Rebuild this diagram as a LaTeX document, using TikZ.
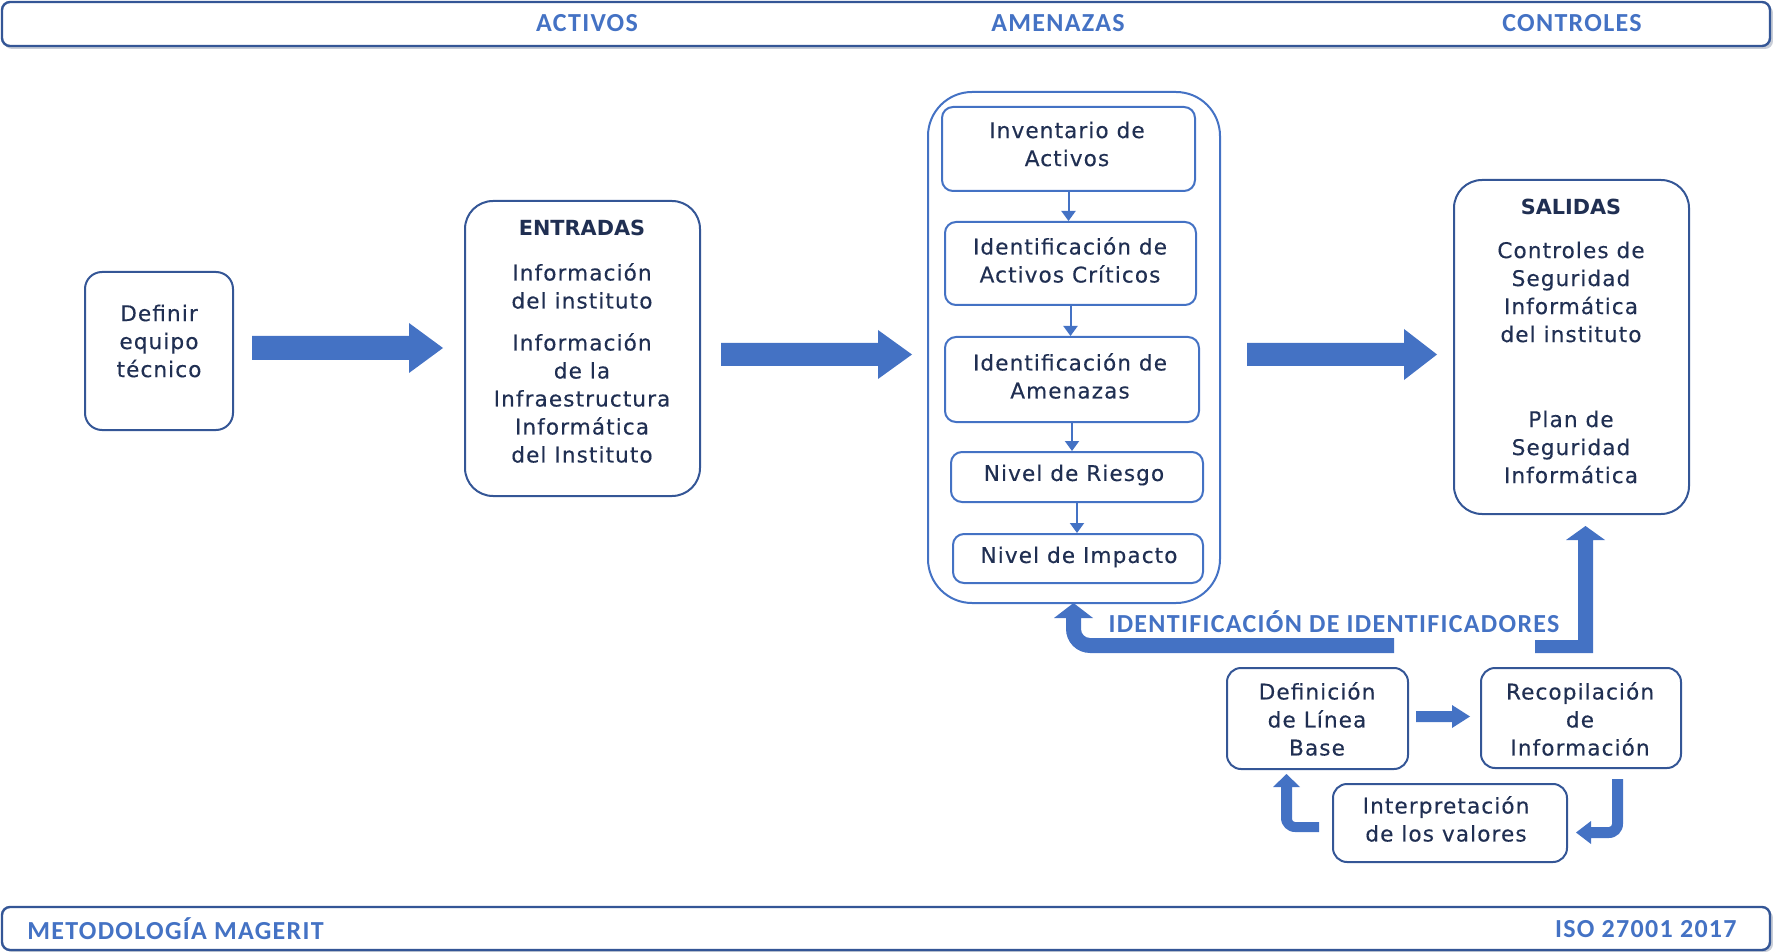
\documentclass[tikz,border=0pt]{standalone}
\usepackage{fontspec}
\usetikzlibrary{arrows.meta,fit}
\newfontfamily\boxfont[LetterSpace=5,FakeBold=0.3]{DejaVu Sans}
\newfontfamily\boxboldfont{DejaVu Sans}
\newfontfamily\barfont[LetterSpace=5]{Carlito}
\definecolor{arrowblue}{RGB}{68,114,196}
\definecolor{boxdark}{RGB}{52,86,150}
\definecolor{boxlight}{RGB}{68,114,196}
\definecolor{textnavy}{RGB}{32,47,82}
\definecolor{barshadow}{RGB}{200,205,215}
\begin{document}
\begin{tikzpicture}[x=0.5pt,y=-0.5pt,
  bodytext/.style={font=\boxfont\fontsize{10.8}{14}\selectfont, text=textnavy, align=center, inner sep=0},
  titletext/.style={font=\boxboldfont\bfseries\fontsize{10.4}{14}\selectfont, text=textnavy, inner sep=0},
  bartext/.style={font=\barfont\bfseries\fontsize{13}{14}\selectfont, text=arrowblue, inner sep=0},
  outerbox/.style={draw=boxdark, line width=1pt, inner sep=0},
  innerbox/.style={draw=boxlight, line width=1pt, inner sep=0, rounded corners=5.5pt},
  smallbox/.style={outerbox, rounded corners=7pt},
  barbox/.style={draw=boxdark, line width=1.2pt, fill=white, rounded corners=4pt, inner sep=0},
  thinarrow/.style={draw=boxlight, line width=1pt, -{Triangle[width=7pt,length=5pt]}}
]
\useasboundingbox (0,0) rectangle (1773,952);

% header and footer bars
\fill[barshadow, rounded corners=4pt] (4,5) rectangle (1773,49);
\node[barbox, fit={(2,2)(1770,46)}] (topbar) {};
\fill[barshadow, rounded corners=4pt] (4,910) rectangle (1773,952);
\node[barbox, fit={(2,907)(1770,950)}] (bottombar) {};
\node[bartext] (hactivos) at (587,23) {ACTIVOS};
\node[bartext] (hamenazas) at (1058,23) {AMENAZAS};
\node[bartext] (hcontroles) at (1572,23) {CONTROLES};
\node[bartext, anchor=west] (fmagerit) at (27,929) {METODOLOGÍA MAGERIT};
\node[bartext, anchor=east] (fiso) at (1737,929) {ISO 27001 2017};

% first stage
\node[outerbox, rounded corners=8.5pt, fit={(85,272)(233,430)}] (definir) {};
\node[bodytext] (tdefinir) at (159,341) {Definir\\equipo\\técnico};

\node[outerbox, rounded corners=14pt, fit={(465,201)(700,496)}] (entradas) {};
\node[titletext] (tentradas) at (582,228) {ENTRADAS};
\node[bodytext] (tent1) at (582,286) {Información\\del instituto};
\node[bodytext] (tent2) at (582,398) {Información\\de la\\Infraestructura\\Informática\\del Instituto};

% analysis block
\node[draw=boxlight, line width=1pt, rounded corners=22pt, inner sep=0, fit={(928,92)(1220,603)}] (analisis) {};
\node[innerbox, fit={(942,107)(1195,191)}] (inv) {};
\node[innerbox, fit={(945,222)(1196,305)}] (iac) {};
\node[innerbox, fit={(945,337)(1199,422)}] (iam) {};
\node[innerbox, fit={(951,452)(1203,502)}] (riesgo) {};
\node[innerbox, fit={(953,534)(1203,583)}] (impacto) {};
\node[bodytext] (tinv) at (1067,144) {Inventario de\\Activos};
\node[bodytext] (tiac) at (1070,260) {Identificación de\\Activos Críticos};
\node[bodytext] (tiam) at (1070,376) {Identificación de\\Amenazas};
\node[bodytext] (triesgo) at (1074,475) {Nivel de Riesgo};
\node[bodytext] (timpacto) at (1079,557) {Nivel de Impacto};
\draw[thinarrow] (inv.south) -- (inv.south |- iac.north);
\draw[thinarrow] (iac.south) -- (iac.south |- iam.north);
\draw[thinarrow] (iam.south) -- (iam.south |- riesgo.north);
\draw[thinarrow] (riesgo.south) -- (riesgo.south |- impacto.north);

% outputs
\node[outerbox, rounded corners=14pt, fit={(1454,180)(1689,514)}] (salidas) {};
\node[titletext] (tsalidas) at (1571,207) {SALIDAS};
\node[bodytext] (tsal1) at (1571,292) {Controles de\\Seguridad\\Informática\\del instituto};
\node[bodytext] (tsal2) at (1571,447) {Plan de\\Seguridad\\Informática};

% main flow arrows
\fill[arrowblue] (252,336) -- (409,336) -- (409,323) -- (443,348) -- (409,373) -- (409,360) -- (252,360) -- cycle;
\fill[arrowblue] (721,343) -- (878,343) -- (878,330) -- (912,354.5) -- (878,379) -- (878,366) -- (721,366) -- cycle;
\fill[arrowblue] (1247,343) -- (1404,343) -- (1404,329) -- (1437,354.5) -- (1404,380) -- (1404,366) -- (1247,366) -- cycle;

% baseline cycle
\node[smallbox, fit={(1227,668)(1408,769)}] (linea) {};
\node[smallbox, fit={(1481,668)(1681,768)}] (recop) {};
\node[smallbox, fit={(1333,784)(1567,862)}] (interp) {};
\node[bodytext] (tlinea) at (1317,719) {Definición\\de Línea\\Base};
\node[bodytext] (trecop) at (1580,719) {Recopilación\\de\\Información};
\node[bodytext] (tinterp) at (1446,819) {Interpretación\\de los valores};

\fill[arrowblue] (1416,711) -- (1452,711) -- (1452,705) -- (1470,716.5) -- (1452,728) -- (1452,722) -- (1416,722) -- cycle;
% from Recopilación down and back to Interpretación
\fill[arrowblue] (1612,779) -- (1623,779) -- (1623,824) arc[start angle=0,end angle=90,radius=14]
  -- (1591,838) -- (1591,844) -- (1576,832.5) -- (1591,821) -- (1591,827)
  -- (1609,827) arc[start angle=90,end angle=0,radius=3] -- cycle;
% from Interpretación up to Definición de Línea Base
\fill[arrowblue] (1319,822) -- (1295,822) arc[start angle=90,end angle=180,radius=3]
  -- (1292,787) -- (1300,787) -- (1286.5,774) -- (1273,787) -- (1281,787)
  -- (1281,818) arc[start angle=180,end angle=90,radius=14] -- (1319,832) -- cycle;

% feedback into the analysis block
\fill[arrowblue] (1394,638) -- (1090,638) arc[start angle=90,end angle=180,radius=9]
  -- (1081,618) -- (1093,618) -- (1073.5,603) -- (1054,618) -- (1066,618)
  -- (1066,629) arc[start angle=180,end angle=90,radius=24] -- (1394,653) -- cycle;
\node[bartext] (idlabel) at (1334,622) {IDENTIFICACIÓN DE IDENTIFICADORES};
% towards the outputs
\fill[arrowblue] (1535,640) -- (1578,640) -- (1578,540) -- (1566,540) -- (1585.5,526)
  -- (1605,540) -- (1593,540) -- (1593,653) -- (1535,653) -- cycle;
\end{tikzpicture}
\end{document}
